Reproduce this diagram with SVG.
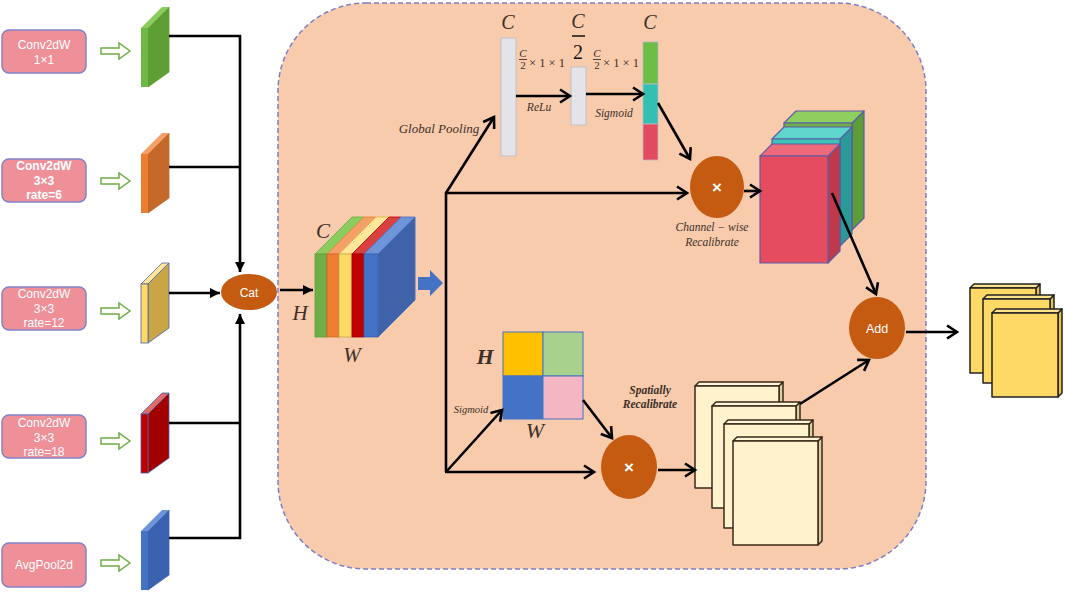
<svg xmlns="http://www.w3.org/2000/svg" width="1065" height="595" viewBox="0 0 1065 595">
<defs>
<style>
.lbl{font-family:"Liberation Sans",Arial,sans-serif;font-size:12px;fill:#fff;text-anchor:middle}
.box{fill:#EF8F98;stroke:#8282CC;stroke-width:1.5}
.hol{fill:#fff;stroke:#70AD47;stroke-width:1.5}
.ln{fill:none;stroke:#000;stroke-width:2.6}
.it{font-family:"Liberation Serif","DejaVu Serif",serif;font-style:italic;fill:#3d3028;text-anchor:middle}
.op{fill:#C55A11}
.opt{font-family:"Liberation Sans",Arial,sans-serif;fill:#fff;text-anchor:middle}
.bar{fill:#E3E3E8;stroke:#C0C0C8;stroke-width:1}
.crd{stroke:#3B2A1A;stroke-width:1.5;stroke-linejoin:round}
.ycd{stroke:#222;stroke-width:1.5;stroke-linejoin:round}
.cb{stroke:#5B5BA8;stroke-width:1.2;stroke-linejoin:round}
</style>
<marker id="fa" markerUnits="userSpaceOnUse" markerWidth="12" markerHeight="12" viewBox="0 0 12 12" refX="11" refY="6" orient="auto">
<path d="M1,1 L11,6 L1,11 z" fill="#000"/>
</marker>
<marker id="ch" markerUnits="userSpaceOnUse" markerWidth="16" markerHeight="16" viewBox="0 0 16 16" refX="13" refY="8" orient="auto">
<path d="M3,1.5 L13,8 L3,14.5" fill="none" stroke="#000" stroke-width="2.6" stroke-linejoin="miter"/>
</marker>
</defs>
<rect width="1065" height="595" fill="#fff"/>

<g id="container">
<rect x="278" y="3" width="648" height="566" rx="88" ry="88" fill="#F8CBAD" stroke="#7F7FC4" stroke-width="1.5" stroke-dasharray="5 3"/>
</g>

<!-- left input boxes -->
<g id="box1"><rect class="box" x="2" y="30" width="84" height="43" rx="7"/><text class="lbl" x="44" y="49">Conv2dW</text><text class="lbl" x="44" y="64">1×1</text></g>
<g id="box2"><rect class="box" x="2" y="159" width="84" height="43" rx="7"/><text class="lbl" x="44" y="170" font-weight="bold">Conv2dW</text><text class="lbl" x="44" y="185" font-weight="bold">3×3</text><text class="lbl" x="44" y="199" font-weight="bold">rate=6</text></g>
<g id="box3"><rect class="box" x="2" y="287" width="84" height="43" rx="7"/><text class="lbl" x="44" y="298">Conv2dW</text><text class="lbl" x="44" y="313">3×3</text><text class="lbl" x="44" y="327">rate=12</text></g>
<g id="box4"><rect class="box" x="2" y="415" width="84" height="43" rx="7"/><text class="lbl" x="44" y="427">Conv2dW</text><text class="lbl" x="44" y="442">3×3</text><text class="lbl" x="44" y="456">rate=18</text></g>
<g id="box5"><rect class="box" x="2" y="543" width="84" height="44" rx="7"/><text class="lbl" x="44" y="569">AvgPool2d</text></g>

<g id="hollow-arrows">
<polygon class="hol" points="101,48 119,48 119,43 130,51 119,59 119,54 101,54"/>
<polygon class="hol" points="101,178 119,178 119,173 130,181 119,189 119,184 101,184"/>
<polygon class="hol" points="101,308 119,308 119,303 130,311 119,319 119,314 101,314"/>
<polygon class="hol" points="101,438 119,438 119,433 130,441 119,449 119,444 101,444"/>
<polygon class="hol" points="101,560 119,560 119,555 130,563 119,571 119,566 101,566"/>
</g>

<!-- slabs -->
<g id="slab-green">
<polygon points="148,28 169,7 169,72 148,87" fill="#5E9E35" stroke="#5E9E35" stroke-width="0.8"/>
<polygon points="141,28 148,28 169,7 162,7" fill="#8CCB5E"/>
<rect x="141" y="28" width="7" height="59" fill="#70B846"/>
</g>
<g id="slab-orange" transform="translate(0,126)">
<polygon points="148,28 169,7 169,72 148,87" fill="#C5692A" stroke="#C5692A" stroke-width="0.8"/>
<polygon points="141,28 148,28 169,7 162,7" fill="#F4A068"/>
<rect x="141" y="28" width="7" height="59" fill="#ED7D31"/>
</g>
<g id="slab-yellow" transform="translate(0,256)">
<polygon points="148,28 169,7 169,72 148,87" fill="#C9A545" stroke="#4A62A8" stroke-width="0.8"/>
<polygon points="141,28 148,28 169,7 162,7" fill="#FFE699" stroke="#4A62A8" stroke-width="0.8"/>
<rect x="141" y="28" width="7" height="59" fill="#FFD966" stroke="#4A62A8" stroke-width="0.8"/>
</g>
<g id="slab-red" transform="translate(0,386)">
<polygon points="148,28 169,7 169,72 148,87" fill="#A30000" stroke="#4A62A8" stroke-width="0.8"/>
<polygon points="141,28 148,28 169,7 162,7" fill="#E06A6A" stroke="#4A62A8" stroke-width="0.8"/>
<rect x="141" y="28" width="7" height="59" fill="#C00000" stroke="#4A62A8" stroke-width="0.8"/>
</g>
<g id="slab-blue" transform="translate(0,503)">
<polygon points="148,28 169,7 169,72 148,87" fill="#3A62B0" stroke="#3A62B0" stroke-width="0.8"/>
<polygon points="141,28 148,28 169,7 162,7" fill="#6F95D8"/>
<rect x="141" y="28" width="7" height="59" fill="#4472C4"/>
</g>

<g id="cat"><ellipse class="op" cx="249" cy="292" rx="28" ry="18"/><text class="opt" x="249" y="297" font-size="12">Cat</text></g>

<!-- concat cube -->
<g id="feature-cube">
<polygon points="378,254 415,217 415,300 378,337" fill="#3F62A8" stroke="#4472C4" stroke-width="1"/>
<polygon points="315,254 327,254 364,217 352,217" fill="#8CCB5E" stroke="#70AD47" stroke-width="0.8"/>
<polygon points="327,254 339,254 376,217 364,217" fill="#F4A068" stroke="#ED7D31" stroke-width="0.8"/>
<polygon points="339,254 352,254 389,217 376,217" fill="#FFE699" stroke="#E0B840" stroke-width="0.8"/>
<polygon points="352,254 364,254 401,217 389,217" fill="#D94040" stroke="#C00000" stroke-width="0.8"/>
<polygon points="364,254 378,254 415,217 401,217" fill="#6F95D8" stroke="#4472C4" stroke-width="0.8"/>
<rect x="315" y="254" width="12" height="83" fill="#70AD47" stroke="#5E9E35" stroke-width="0.8"/>
<rect x="327" y="254" width="12" height="83" fill="#ED7D31" stroke="#C5692A" stroke-width="0.8"/>
<rect x="339" y="254" width="13" height="83" fill="#FFD966" stroke="#C9A545" stroke-width="0.8"/>
<rect x="352" y="254" width="12" height="83" fill="#C00000" stroke="#A00000" stroke-width="0.8"/>
<rect x="364" y="254" width="14" height="83" fill="#4472C4" stroke="#3A62B0" stroke-width="0.8"/>
<text class="it" x="323" y="238" font-size="21" fill="#111">C</text>
<text class="it" x="300" y="320" font-size="21" fill="#111">H</text>
<text class="it" x="352" y="362" font-size="21" fill="#111">W</text>
</g>

<g id="block-arrow"><polygon points="418,277 430,277 430,270 443,283 430,296 430,290 418,290" fill="#4472C4"/></g>

<!-- channel branch -->
<g id="bar1"><rect class="bar" x="501" y="38" width="15" height="118"/><text class="it" x="508" y="29" font-size="20" fill="#111">C</text></g>
<g id="bar2"><rect class="bar" x="571" y="67" width="15" height="58"/>
<text class="it" x="578" y="28" font-size="20" fill="#111">C</text>
<line x1="572" y1="36" x2="585" y2="36" stroke="#111" stroke-width="1.5"/>
<text x="578" y="59" font-family="Liberation Serif,serif" font-size="20" text-anchor="middle" fill="#111">2</text></g>
<g id="bar3">
<rect x="643" y="42" width="15" height="42" fill="#6DBE45" stroke="#B8B8C0" stroke-width="0.8"/>
<rect x="643" y="84" width="15" height="40" fill="#33C0B2" stroke="#B8B8C0" stroke-width="0.8"/>
<rect x="643" y="124" width="15" height="36" fill="#E24B5F" stroke="#B8B8C0" stroke-width="0.8"/>
<text class="it" x="650" y="29" font-size="20" fill="#111">C</text>
</g>
<g id="fc-labels" font-family="Liberation Serif,serif" fill="#3d3028">
<text class="it" x="523" y="57" font-size="11">C</text>
<line x1="519" y1="59.5" x2="527" y2="59.5" stroke="#3d3028" stroke-width="0.9"/>
<text x="523" y="69" font-size="11" text-anchor="middle">2</text>
<text x="529" y="67" font-size="12.5">× 1 × 1</text>
<text class="it" x="597" y="57" font-size="11">C</text>
<line x1="593" y1="59.5" x2="601" y2="59.5" stroke="#3d3028" stroke-width="0.9"/>
<text x="597" y="69" font-size="11" text-anchor="middle">2</text>
<text x="603" y="67" font-size="12.5">× 1 × 1</text>
<text class="it" x="539" y="111" font-size="11.5">ReLu</text>
<text class="it" x="614" y="117" font-size="11.5">Sigmoid</text>
<text class="it" x="439" y="133" font-size="13">Global Pooling</text>
</g>

<g id="mul1"><ellipse class="op" cx="717" cy="187" rx="27" ry="31"/><text class="opt" x="717" y="193" font-size="17" font-weight="bold">×</text>
<text class="it" x="712" y="231" font-size="11.5">Channel − wise</text><text class="it" x="712" y="246" font-size="11.5">Recalibrate</text></g>

<g id="channel-cubes">
<polygon class="cb" points="852,123 864,111 864,218 852,230" fill="#5A9E35"/>
<polygon class="cb" points="784,123 796,111 864,111 852,123" fill="#8ECF5F"/>
<rect class="cb" x="784" y="123" width="68" height="107" fill="#70AD47"/>
<polygon class="cb" points="840,139 852,127 852,234 840,246" fill="#2A9A96"/>
<polygon class="cb" points="772,139 784,127 852,127 840,139" fill="#5ED6CC"/>
<rect class="cb" x="772" y="139" width="68" height="107" fill="#3CC4B8"/>
<polygon class="cb" points="828,156 840,144 840,251 828,263" fill="#C0394A"/>
<polygon class="cb" points="760,156 772,144 840,144 828,156" fill="#EE6A7A"/>
<rect class="cb" x="760" y="156" width="68" height="107" fill="#E64C5F"/>
</g>

<g id="add"><ellipse class="op" cx="877" cy="328" rx="28" ry="31"/><text class="opt" x="877" y="333" font-size="12.5">Add</text></g>

<g id="output-cards">
<polygon class="ycd" points="1036,288 1040,284 1040,369 1036,373" fill="#E8C24A"/>
<polygon class="ycd" points="970,288 974,284 1040,284 1036,288" fill="#FFE38A"/>
<rect class="ycd" x="970" y="288" width="66" height="85" fill="#FFD966"/>
<polygon class="ycd" points="1050,299 1054,295 1054,379 1050,383" fill="#E8C24A"/>
<polygon class="ycd" points="983,299 987,295 1054,295 1050,299" fill="#FFE38A"/>
<rect class="ycd" x="983" y="299" width="67" height="84" fill="#FFD966"/>
<polygon class="ycd" points="1058,313 1062,309 1062,393 1058,397" fill="#E8C24A"/>
<polygon class="ycd" points="992,313 996,309 1062,309 1058,313" fill="#FFE38A"/>
<rect class="ycd" x="992" y="313" width="66" height="84" fill="#FFD966"/>
</g>

<!-- spatial branch -->
<g id="spatial-map">
<rect x="503" y="332" width="40" height="44" fill="#FFC000" stroke="#4472C4" stroke-width="1"/>
<rect x="543" y="332" width="40" height="44" fill="#A9D18E" stroke="#4472C4" stroke-width="1"/>
<rect x="503" y="376" width="40" height="43" fill="#4472C4" stroke="#4472C4" stroke-width="1"/>
<rect x="543" y="376" width="40" height="43" fill="#F4B6C2" stroke="#4472C4" stroke-width="1"/>
<text class="it" x="485" y="364" font-size="22" font-weight="bold" fill="#111">H</text>
<text class="it" x="535" y="438" font-size="22" fill="#111">W</text>
<text class="it" x="471" y="413" font-size="10.5">Sigmoid</text>
</g>

<g id="mul2"><ellipse class="op" cx="629" cy="467" rx="28" ry="32"/><text class="opt" x="629" y="473" font-size="17" font-weight="bold">×</text>
<text class="it" x="650" y="394" font-size="11.5" font-weight="bold">Spatially</text><text class="it" x="650" y="408" font-size="11.5" font-weight="bold">Recalibrate</text></g>

<g id="spatial-cards">
<polygon class="crd" points="779,386 783,382 783,484 779,488" fill="#D8D0A2"/>
<polygon class="crd" points="695,386 699,382 783,382 779,386" fill="#FFF6DA"/>
<rect class="crd" x="695" y="386" width="84" height="102" fill="#FFF2CC"/>
<polygon class="crd" points="796,406 800,402 800,504 796,508" fill="#D8D0A2"/>
<polygon class="crd" points="712,406 716,402 800,402 796,406" fill="#FFF6DA"/>
<rect class="crd" x="712" y="406" width="84" height="102" fill="#FFF2CC"/>
<polygon class="crd" points="809,424 813,420 813,524 809,528" fill="#D8D0A2"/>
<polygon class="crd" points="724,424 728,420 813,420 809,424" fill="#FFF6DA"/>
<rect class="crd" x="724" y="424" width="85" height="104" fill="#FFF2CC"/>
<polygon class="crd" points="818,441 822,437 822,541 818,545" fill="#D8D0A2"/>
<polygon class="crd" points="733,441 737,437 822,437 818,441" fill="#FFF6DA"/>
<rect class="crd" x="733" y="441" width="85" height="104" fill="#FFF2CC"/>
</g>

<g id="connectors">
<polyline class="ln" points="169,36 240,36 240,272" marker-end="url(#fa)"/>
<line class="ln" x1="169" y1="167" x2="240" y2="167"/>
<line class="ln" x1="169" y1="293" x2="220" y2="293" marker-end="url(#fa)"/>
<polyline class="ln" points="169,538 240,538 240,314" marker-end="url(#fa)"/>
<line class="ln" x1="169" y1="423" x2="240" y2="423"/>
<line class="ln" x1="280" y1="290" x2="313" y2="290" marker-end="url(#fa)"/>
<line class="ln" x1="446" y1="192" x2="446" y2="472"/>
<line class="ln" x1="445" y1="193" x2="687" y2="193" marker-end="url(#ch)"/>
<line class="ln" x1="446" y1="193" x2="494" y2="117" marker-end="url(#ch)"/>
<line class="ln" x1="516" y1="96" x2="570" y2="96" marker-end="url(#ch)"/>
<line class="ln" x1="586" y1="94" x2="643" y2="94" marker-end="url(#ch)"/>
<line class="ln" x1="658" y1="103" x2="690" y2="159" marker-end="url(#ch)"/>
<line class="ln" x1="744" y1="191" x2="760" y2="191" marker-end="url(#ch)"/>
<line class="ln" x1="832" y1="193" x2="876" y2="294" marker-end="url(#ch)"/>
<line class="ln" x1="906" y1="332" x2="957" y2="332" marker-end="url(#ch)"/>
<line class="ln" x1="445" y1="472" x2="594" y2="472" marker-end="url(#ch)"/>
<line class="ln" x1="446" y1="472" x2="502" y2="410" marker-end="url(#ch)"/>
<line class="ln" x1="583" y1="400" x2="612" y2="438" marker-end="url(#ch)"/>
<line class="ln" x1="658" y1="470" x2="695" y2="470" marker-end="url(#ch)"/>
<line class="ln" x1="800" y1="404" x2="869" y2="360" marker-end="url(#ch)"/>
</g>
</svg>
